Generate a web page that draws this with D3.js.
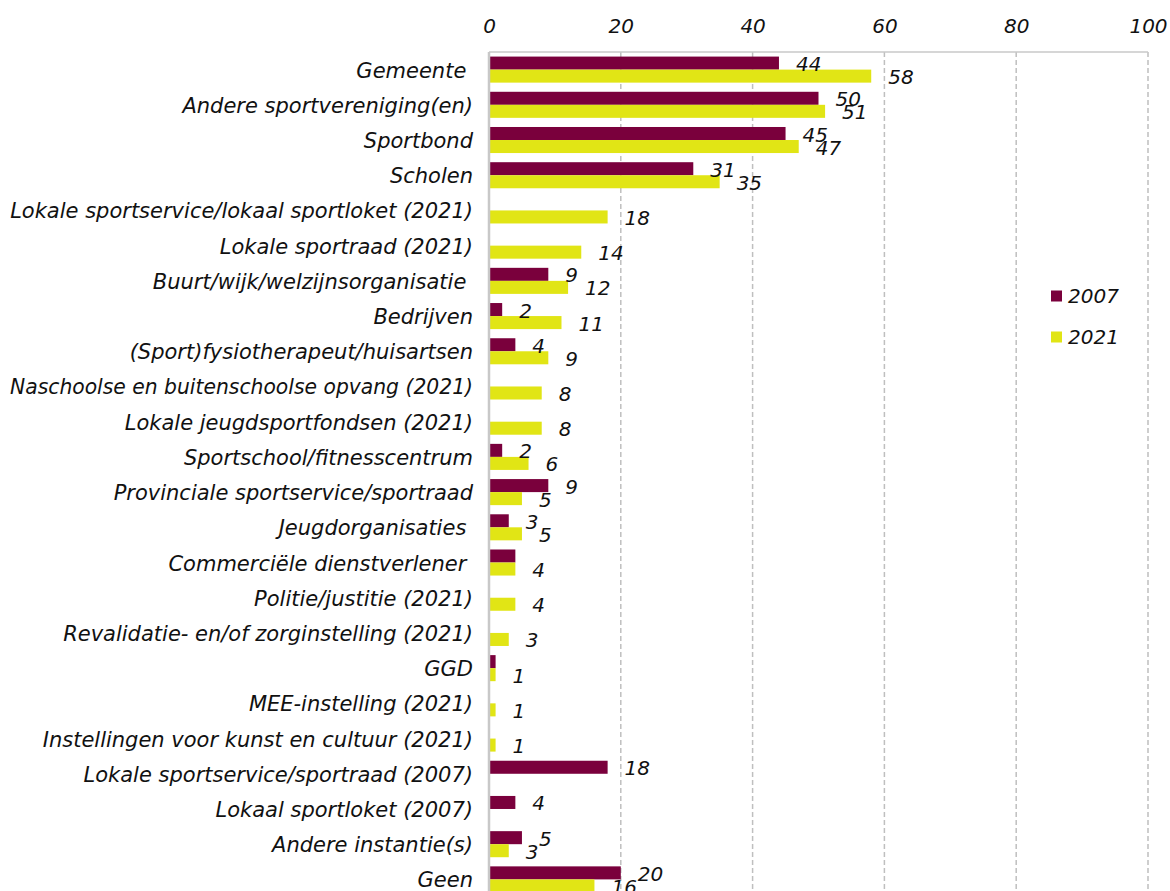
<!DOCTYPE html>
<html>
<head>
<meta charset="utf-8">
<script src="https://cdn.jsdelivr.net/npm/d3@7"></script>
<style>
  html, body { margin: 0; padding: 0; background: #fff; }
  svg text { font-family: "DejaVu Sans", "Open Sans", sans-serif; font-style: italic; fill: #111; white-space: pre; }
</style>
</head>
<body>
<svg id="chart" width="1170" height="891"></svg>
<script>
// Samenwerkingspartners van sportverenigingen, percentage, 2007 en 2021
const categories = [
  "Gemeente ",
  "Andere sportvereniging(en)",
  "Sportbond",
  "Scholen",
  "Lokale sportservice/lokaal sportloket (2021)",
  "Lokale sportraad (2021)",
  "Buurt/wijk/welzijnsorganisatie ",
  "Bedrijven",
  "(Sport)fysiotherapeut/huisartsen",
  "Naschoolse en buitenschoolse opvang (2021)",
  "Lokale jeugdsportfondsen (2021)",
  "Sportschool/fitnesscentrum",
  "Provinciale sportservice/sportraad",
  "Jeugdorganisaties ",
  "Commerciële dienstverlener ",
  "Politie/justitie (2021)",
  "Revalidatie- en/of zorginstelling (2021)",
  "GGD",
  "MEE-instelling (2021)",
  "Instellingen voor kunst en cultuur (2021)",
  "Lokale sportservice/sportraad (2007)",
  "Lokaal sportloket (2007)",
  "Andere instantie(s)",
  "Geen"
];

const values2007 = [44, 50, 45, 31, null, null, 9, 2, 4, null, null, 2, 9, 3, 4, null, null, 1, null, null, 18, 4, 5, 20];
const values2021 = [58, 51, 47, 35, 18, 14, 12, 11, 9, 8, 8, 6, 5, 5, 4, 4, 3, 1, 1, 1, null, null, 3, 16];

// 2007 bars that carry no value label
const unlabeled2007 = ["Commerciële dienstverlener ", "GGD"];

const seriesNames = ["2007", "2021"];
const seriesColors = ["#7a003c", "#e1e515"];
const xTicks = [0, 20, 40, 60, 80, 100];

const svg = d3.select("#chart");
const margin = { left: 489, right: 22, top: 52 };
const plotRight = 1170 - margin.right;
const plotBottom = 897;
const labelRight = 473;
const labelMaxWidth = 463;

const x = d3.scaleLinear().domain([0, 100]).range([margin.left, plotRight]);
const y = d3.scaleBand().domain(categories).range([margin.top, plotBottom])
  .paddingInner(0.26).paddingOuter(0.13);
const sub = d3.scaleBand().domain(seriesNames).range([0, y.bandwidth()]);

// dashed vertical gridlines
svg.append("g").selectAll("line").data(xTicks.filter(d => d > 0)).join("line")
  .attr("x1", d => x(d)).attr("x2", d => x(d))
  .attr("y1", margin.top).attr("y2", 891)
  .attr("stroke", "#bfbfbf").attr("stroke-width", 1.5).attr("stroke-dasharray", "5,3");

// top border of the plot area
svg.append("line")
  .attr("x1", x(0)).attr("x2", x(100)).attr("y1", margin.top).attr("y2", margin.top)
  .attr("stroke", "#c8c8c8").attr("stroke-width", 1.5);

// top axis with labels only
const xAxis = d3.axisTop(x).tickValues(xTicks).tickSize(0).tickPadding(0);
const gx = svg.append("g").attr("transform", `translate(0, 33)`).call(xAxis);
gx.select(".domain").remove();
gx.selectAll("text").attr("font-size", 20).attr("font-family", null);

// bars
const rows = categories.map((c, i) => ({ cat: c, v: [values2007[i], values2021[i]] }));
const barData = [];
rows.forEach(r => r.v.forEach((v, k) => {
  if (v !== null) barData.push({ cat: r.cat, series: seriesNames[k], color: seriesColors[k], value: v });
}));

svg.append("g").selectAll("rect").data(barData).join("rect")
  .attr("x", x(0))
  .attr("y", d => y(d.cat) + sub(d.series))
  .attr("width", d => x(d.value) - x(0))
  .attr("height", sub.bandwidth())
  .attr("fill", d => d.color);

// value labels
svg.append("g").selectAll("text")
  .data(barData.filter(d => !(d.series === "2007" && unlabeled2007.includes(d.cat))))
  .join("text")
  .attr("x", d => x(d.value) + 17)
  .attr("y", d => y(d.cat) + sub(d.series) + sub.bandwidth() / 2 + 1)
  .attr("dominant-baseline", "central")
  .attr("font-size", 20)
  .text(d => d.value);

// left axis line
svg.append("line")
  .attr("x1", x(0)).attr("x2", x(0)).attr("y1", margin.top).attr("y2", 891)
  .attr("stroke", "#c8c8c8").attr("stroke-width", 2.5);

// category labels, squeezed to fit the left margin where needed
svg.append("g").selectAll("text").data(categories).join("text")
  .attr("x", labelRight)
  .attr("y", d => y(d) + y.bandwidth() / 2 + 1)
  .attr("text-anchor", "end")
  .attr("dominant-baseline", "central")
  .attr("font-size", 21)
  .text(d => d)
  .each(function () {
    if (this.getComputedTextLength() > labelMaxWidth) {
      d3.select(this).attr("textLength", labelMaxWidth).attr("lengthAdjust", "spacingAndGlyphs");
    }
  });

// legend
const legend = svg.append("g").selectAll("g").data(seriesNames).join("g")
  .attr("transform", (d, i) => `translate(1051, ${296 + i * 41})`);
legend.append("rect").attr("x", 0).attr("y", -5.5).attr("width", 11).attr("height", 11)
  .attr("fill", (d, i) => seriesColors[i]);
legend.append("text").attr("x", 17).attr("y", 0).attr("dominant-baseline", "central")
  .attr("font-size", 20).text(d => d);
</script>
</body>
</html>
